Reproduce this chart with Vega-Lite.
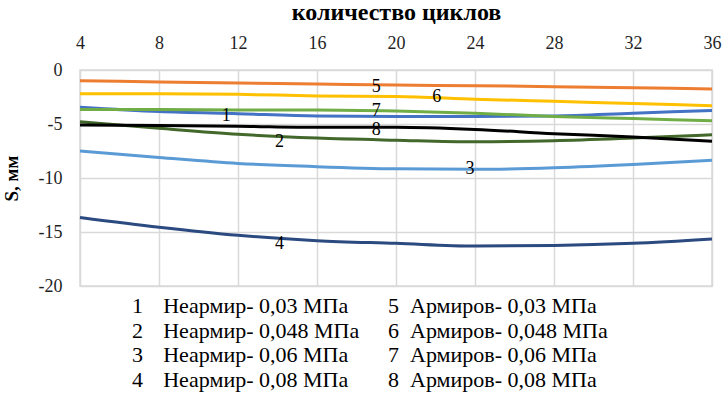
{
  "$schema": "https://vega.github.io/schema/vega-lite/v6.json",
  "width": 632,
  "height": 216,
  "autosize": {"type": "none"},
  "padding": {"left": 80, "top": 70, "right": 11, "bottom": 113},
  "config": {
    "font": "Liberation Serif",
    "view": {"stroke": "#d9d9d9", "strokeWidth": 1.5}
  },
  "datasets": {
    "curves": [
      {"series": "1\u2002\u2005\u2006Неармир- 0,03 МПа", "cycles": 4, "s": -3.45},
      {"series": "1\u2002\u2005\u2006Неармир- 0,03 МПа", "cycles": 8, "s": -3.85},
      {"series": "1\u2002\u2005\u2006Неармир- 0,03 МПа", "cycles": 12, "s": -4.05},
      {"series": "1\u2002\u2005\u2006Неармир- 0,03 МПа", "cycles": 16, "s": -4.25},
      {"series": "1\u2002\u2005\u2006Неармир- 0,03 МПа", "cycles": 20, "s": -4.3},
      {"series": "1\u2002\u2005\u2006Неармир- 0,03 МПа", "cycles": 24, "s": -4.3},
      {"series": "1\u2002\u2005\u2006Неармир- 0,03 МПа", "cycles": 28, "s": -4.25},
      {"series": "1\u2002\u2005\u2006Неармир- 0,03 МПа", "cycles": 32, "s": -4.0},
      {"series": "1\u2002\u2005\u2006Неармир- 0,03 МПа", "cycles": 36, "s": -3.75},
      {"series": "2\u2002\u2005\u2006Неармир- 0,048 МПа", "cycles": 4, "s": -4.8},
      {"series": "2\u2002\u2005\u2006Неармир- 0,048 МПа", "cycles": 8, "s": -5.4},
      {"series": "2\u2002\u2005\u2006Неармир- 0,048 МПа", "cycles": 12, "s": -5.95},
      {"series": "2\u2002\u2005\u2006Неармир- 0,048 МПа", "cycles": 16, "s": -6.3},
      {"series": "2\u2002\u2005\u2006Неармир- 0,048 МПа", "cycles": 20, "s": -6.5},
      {"series": "2\u2002\u2005\u2006Неармир- 0,048 МПа", "cycles": 24, "s": -6.65},
      {"series": "2\u2002\u2005\u2006Неармир- 0,048 МПа", "cycles": 28, "s": -6.55},
      {"series": "2\u2002\u2005\u2006Неармир- 0,048 МПа", "cycles": 32, "s": -6.3},
      {"series": "2\u2002\u2005\u2006Неармир- 0,048 МПа", "cycles": 36, "s": -6.0},
      {"series": "3\u2002\u2005\u2006Неармир- 0,06 МПа", "cycles": 4, "s": -7.5},
      {"series": "3\u2002\u2005\u2006Неармир- 0,06 МПа", "cycles": 8, "s": -8.1},
      {"series": "3\u2002\u2005\u2006Неармир- 0,06 МПа", "cycles": 12, "s": -8.65},
      {"series": "3\u2002\u2005\u2006Неармир- 0,06 МПа", "cycles": 16, "s": -8.95},
      {"series": "3\u2002\u2005\u2006Неармир- 0,06 МПа", "cycles": 20, "s": -9.15},
      {"series": "3\u2002\u2005\u2006Неармир- 0,06 МПа", "cycles": 24, "s": -9.2},
      {"series": "3\u2002\u2005\u2006Неармир- 0,06 МПа", "cycles": 28, "s": -9.05},
      {"series": "3\u2002\u2005\u2006Неармир- 0,06 МПа", "cycles": 32, "s": -8.75},
      {"series": "3\u2002\u2005\u2006Неармир- 0,06 МПа", "cycles": 36, "s": -8.35},
      {"series": "4\u2002\u2005\u2006Неармир- 0,08 МПа", "cycles": 4, "s": -13.65},
      {"series": "4\u2002\u2005\u2006Неармир- 0,08 МПа", "cycles": 8, "s": -14.55},
      {"series": "4\u2002\u2005\u2006Неармир- 0,08 МПа", "cycles": 12, "s": -15.3},
      {"series": "4\u2002\u2005\u2006Неармир- 0,08 МПа", "cycles": 16, "s": -15.8},
      {"series": "4\u2002\u2005\u2006Неармир- 0,08 МПа", "cycles": 20, "s": -16.05},
      {"series": "4\u2002\u2005\u2006Неармир- 0,08 МПа", "cycles": 24, "s": -16.3},
      {"series": "4\u2002\u2005\u2006Неармир- 0,08 МПа", "cycles": 28, "s": -16.25},
      {"series": "4\u2002\u2005\u2006Неармир- 0,08 МПа", "cycles": 32, "s": -16.05},
      {"series": "4\u2002\u2005\u2006Неармир- 0,08 МПа", "cycles": 36, "s": -15.65},
      {"series": "5\u2002Армиров- 0,03 МПа", "cycles": 4, "s": -1.0},
      {"series": "5\u2002Армиров- 0,03 МПа", "cycles": 8, "s": -1.1},
      {"series": "5\u2002Армиров- 0,03 МПа", "cycles": 12, "s": -1.2},
      {"series": "5\u2002Армиров- 0,03 МПа", "cycles": 16, "s": -1.3},
      {"series": "5\u2002Армиров- 0,03 МПа", "cycles": 20, "s": -1.4},
      {"series": "5\u2002Армиров- 0,03 МПа", "cycles": 24, "s": -1.45},
      {"series": "5\u2002Армиров- 0,03 МПа", "cycles": 28, "s": -1.55},
      {"series": "5\u2002Армиров- 0,03 МПа", "cycles": 32, "s": -1.65},
      {"series": "5\u2002Армиров- 0,03 МПа", "cycles": 36, "s": -1.75},
      {"series": "6\u2002Армиров- 0,048 МПа", "cycles": 4, "s": -2.2},
      {"series": "6\u2002Армиров- 0,048 МПа", "cycles": 8, "s": -2.2},
      {"series": "6\u2002Армиров- 0,048 МПа", "cycles": 12, "s": -2.25},
      {"series": "6\u2002Армиров- 0,048 МПа", "cycles": 16, "s": -2.4},
      {"series": "6\u2002Армиров- 0,048 МПа", "cycles": 20, "s": -2.45},
      {"series": "6\u2002Армиров- 0,048 МПа", "cycles": 24, "s": -2.7},
      {"series": "6\u2002Армиров- 0,048 МПа", "cycles": 28, "s": -2.9},
      {"series": "6\u2002Армиров- 0,048 МПа", "cycles": 32, "s": -3.1},
      {"series": "6\u2002Армиров- 0,048 МПа", "cycles": 36, "s": -3.3},
      {"series": "7\u2002Армиров- 0,06 МПа", "cycles": 4, "s": -3.65},
      {"series": "7\u2002Армиров- 0,06 МПа", "cycles": 8, "s": -3.65},
      {"series": "7\u2002Армиров- 0,06 МПа", "cycles": 12, "s": -3.7},
      {"series": "7\u2002Армиров- 0,06 МПа", "cycles": 16, "s": -3.7},
      {"series": "7\u2002Армиров- 0,06 МПа", "cycles": 20, "s": -3.8},
      {"series": "7\u2002Армиров- 0,06 МПа", "cycles": 24, "s": -4.0},
      {"series": "7\u2002Армиров- 0,06 МПа", "cycles": 28, "s": -4.3},
      {"series": "7\u2002Армиров- 0,06 МПа", "cycles": 32, "s": -4.5},
      {"series": "7\u2002Армиров- 0,06 МПа", "cycles": 36, "s": -4.7},
      {"series": "8\u2002Армиров- 0,08 МПа", "cycles": 4, "s": -5.1},
      {"series": "8\u2002Армиров- 0,08 МПа", "cycles": 8, "s": -5.15},
      {"series": "8\u2002Армиров- 0,08 МПа", "cycles": 12, "s": -5.2},
      {"series": "8\u2002Армиров- 0,08 МПа", "cycles": 16, "s": -5.3},
      {"series": "8\u2002Армиров- 0,08 МПа", "cycles": 20, "s": -5.3},
      {"series": "8\u2002Армиров- 0,08 МПа", "cycles": 24, "s": -5.5},
      {"series": "8\u2002Армиров- 0,08 МПа", "cycles": 28, "s": -5.9},
      {"series": "8\u2002Армиров- 0,08 МПа", "cycles": 32, "s": -6.2},
      {"series": "8\u2002Армиров- 0,08 МПа", "cycles": 36, "s": -6.6}
    ],
    "tags": [
      {"n": "1", "cycles": 11.4, "s": -4.26},
      {"n": "2", "cycles": 14.1, "s": -6.63},
      {"n": "3", "cycles": 23.75, "s": -9.2},
      {"n": "4", "cycles": 14.1, "s": -16.1},
      {"n": "5", "cycles": 19.0, "s": -1.54},
      {"n": "6", "cycles": 22.06, "s": -2.47},
      {"n": "7", "cycles": 19.0, "s": -3.77},
      {"n": "8", "cycles": 19.0, "s": -5.55}
    ]
  },
  "layer": [
    {
      "data": {"name": "curves"},
      "mark": {"type": "line", "strokeWidth": 3, "interpolate": "monotone"},
      "encoding": {
        "x": {
          "field": "cycles",
          "type": "quantitative",
          "scale": {"domain": [4, 36], "nice": false, "zero": false},
          "axis": {
            "orient": "top",
            "values": [4, 8, 12, 16, 20, 24, 28, 32, 36],
            "grid": true,
            "gridColor": "#d9d9d9",
            "gridWidth": 1.5,
            "domain": false,
            "ticks": false,
            "tickSize": 0,
            "labelFlush": false,
            "labelOverlap": false,
            "labelFont": "Liberation Serif",
            "labelFontSize": 18,
            "labelColor": "#1f1f1f",
            "labelPadding": 18,
            "title": "количество циклов",
            "titleFont": "Liberation Serif",
            "titleFontSize": 24,
            "titleFontWeight": "bold",
            "titleColor": "#000000",
            "titlePadding": 10
          }
        },
        "y": {
          "field": "s",
          "type": "quantitative",
          "scale": {"domain": [-20, 0], "nice": false, "zero": false},
          "axis": {
            "values": [0, -5, -10, -15, -20],
            "labelExpr": "replace(datum.label, '\u2212', '-')",
            "grid": true,
            "gridColor": "#d9d9d9",
            "gridWidth": 1.5,
            "domain": false,
            "ticks": false,
            "tickSize": 0,
            "labelFlush": false,
            "labelOverlap": false,
            "labelFont": "Liberation Serif",
            "labelFontSize": 18,
            "labelColor": "#1f1f1f",
            "labelPadding": 18,
            "title": "S, мм",
            "titleFont": "Liberation Serif",
            "titleFontSize": 19,
            "titleFontWeight": "bold",
            "titleColor": "#000000",
            "titlePadding": 17
          }
        },
        "color": {
          "field": "series",
          "type": "nominal",
          "scale": {
            "domain": [
              "1\u2002\u2005\u2006Неармир- 0,03 МПа",
              "2\u2002\u2005\u2006Неармир- 0,048 МПа",
              "3\u2002\u2005\u2006Неармир- 0,06 МПа",
              "4\u2002\u2005\u2006Неармир- 0,08 МПа",
              "5\u2002Армиров- 0,03 МПа",
              "6\u2002Армиров- 0,048 МПа",
              "7\u2002Армиров- 0,06 МПа",
              "8\u2002Армиров- 0,08 МПа"
            ],
            "range": ["#4472c4", "#43682b", "#5b9bd5", "#2a4a80", "#ed7d31", "#ffc000", "#70ad47", "#000000"]
          },
          "legend": {
            "orient": "none",
            "legendX": 30,
            "legendY": 225,
            "columns": 2,
            "title": null,
            "padding": 0,
            "gridAlign": "all",
            "columnPadding": 6,
            "rowPadding": 2.5,
            "symbolSize": 0,
            "symbolOpacity": 0,
            "symbolStrokeWidth": 0,
            "labelOffset": 0,
            "labelFont": "Liberation Serif",
            "labelFontSize": 22,
            "labelColor": "#000000",
            "labelLimit": 400
          }
        }
      }
    },
    {
      "data": {"name": "tags"},
      "mark": {"type": "text", "font": "Liberation Serif", "fontSize": 18, "color": "#000000", "baseline": "middle", "align": "center"},
      "encoding": {
        "x": {"field": "cycles", "type": "quantitative"},
        "y": {"field": "s", "type": "quantitative"},
        "text": {"field": "n", "type": "nominal"}
      }
    }
  ]
}
